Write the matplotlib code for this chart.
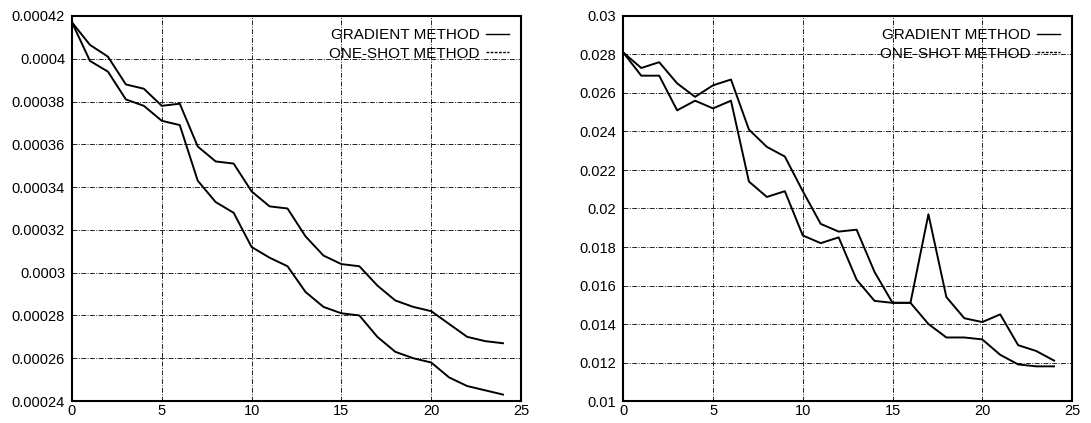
import matplotlib
matplotlib.use("Agg")
import matplotlib.pyplot as plt
from matplotlib.lines import Line2D

plt.rcParams['font.family'] = ['Liberation Sans', 'DejaVu Sans']

iterations = list(range(25))

# Left panel
left_gradient = [0.000417, 0.0004065, 0.000401, 0.000388, 0.000386, 0.000378, 0.000379,
                 0.000359, 0.000352, 0.000351, 0.000338, 0.000331, 0.000330, 0.000317,
                 0.000308, 0.000304, 0.000303, 0.000294, 0.000287, 0.000284, 0.000282,
                 0.000276, 0.000270, 0.000268, 0.000267]
left_oneshot = [0.000417, 0.000399, 0.000394, 0.000381, 0.000378, 0.000371, 0.000369,
                0.000343, 0.000333, 0.000328, 0.000312, 0.000307, 0.000303, 0.000291,
                0.000284, 0.000281, 0.000280, 0.000270, 0.000263, 0.000260, 0.000258,
                0.000251, 0.000247, 0.000245, 0.000243]

# Right panel
right_gradient = [0.0281, 0.0273, 0.0276, 0.0265, 0.0258, 0.0264, 0.0267,
                  0.0241, 0.0232, 0.0227, 0.0209, 0.0192, 0.0188, 0.0189,
                  0.0167, 0.0151, 0.0151, 0.0197, 0.0154, 0.0143, 0.0141,
                  0.0145, 0.0129, 0.0126, 0.0121]
right_oneshot = [0.0281, 0.0269, 0.0269, 0.0251, 0.0256, 0.0252, 0.0256,
                 0.0214, 0.0206, 0.0209, 0.0186, 0.0182, 0.0185, 0.0163,
                 0.0152, 0.0151, 0.0151, 0.0140, 0.0133, 0.0133, 0.0132,
                 0.0124, 0.0119, 0.0118, 0.0118]

x_ticks = [0, 5, 10, 15, 20, 25]
left_yticks = [0.00024, 0.00026, 0.00028, 0.00030, 0.00032, 0.00034, 0.00036, 0.00038, 0.00040, 0.00042]
left_yticklabels = ['0.00024', '0.00026', '0.00028', '0.0003', '0.00032', '0.00034',
                    '0.00036', '0.00038', '0.0004', '0.00042']
right_yticks = [0.010, 0.012, 0.014, 0.016, 0.018, 0.020, 0.022, 0.024, 0.026, 0.028, 0.030]
right_yticklabels = ['0.01', '0.012', '0.014', '0.016', '0.018', '0.02', '0.022',
                     '0.024', '0.026', '0.028', '0.03']

labels = ['GRADIENT METHOD', 'ONE-SHOT METHOD']

fig = plt.figure(figsize=(10.91, 4.23), dpi=100)
ax1 = fig.add_axes([72/1091, 1-401/423, (521-72)/1091, (401-16)/423])
ax2 = fig.add_axes([623.3/1091, 1-401/423, (1072-623.3)/1091, (401-16)/423])

grid_style = dict(color='#222222', linestyle=(0, (5, 1.5, 1, 1.5)), linewidth=0.7)

for ax, g, o, yt, ytl in [(ax1, left_gradient, left_oneshot, left_yticks, left_yticklabels),
                          (ax2, right_gradient, right_oneshot, right_yticks, right_yticklabels)]:
    ax.plot(iterations, g, color='black', linewidth=1.4)
    ax.plot(iterations, o, color='black', linewidth=1.4)
    ax.set_xlim(0, 25)
    ax.set_ylim(yt[0], yt[-1])
    ax.set_xticks(x_ticks)
    ax.set_xticklabels([str(t) for t in x_ticks])
    ax.set_yticks(yt)
    ax.set_yticklabels(ytl)
    ax.grid(True, **grid_style)
    ax.tick_params(length=0, labelsize=10.5, colors='black')
    ax.tick_params(axis='y', pad=5)
    ax.tick_params(axis='x', pad=2)
    for s in ax.spines.values():
        s.set_linewidth(1.5)
        s.set_color('black')
    handles = [Line2D([], [], color='black', linewidth=1.0),
               Line2D([], [], color='black', linewidth=1.0, linestyle=(0, (2, 1)))]
    ax.legend(handles, labels, loc='upper right', frameon=False, markerfirst=False,
              fontsize=11, handlelength=1.5, handletextpad=0.4, labelspacing=0.3,
              borderaxespad=0.4, borderpad=0.4)

fig.savefig('out.png', dpi=100)
